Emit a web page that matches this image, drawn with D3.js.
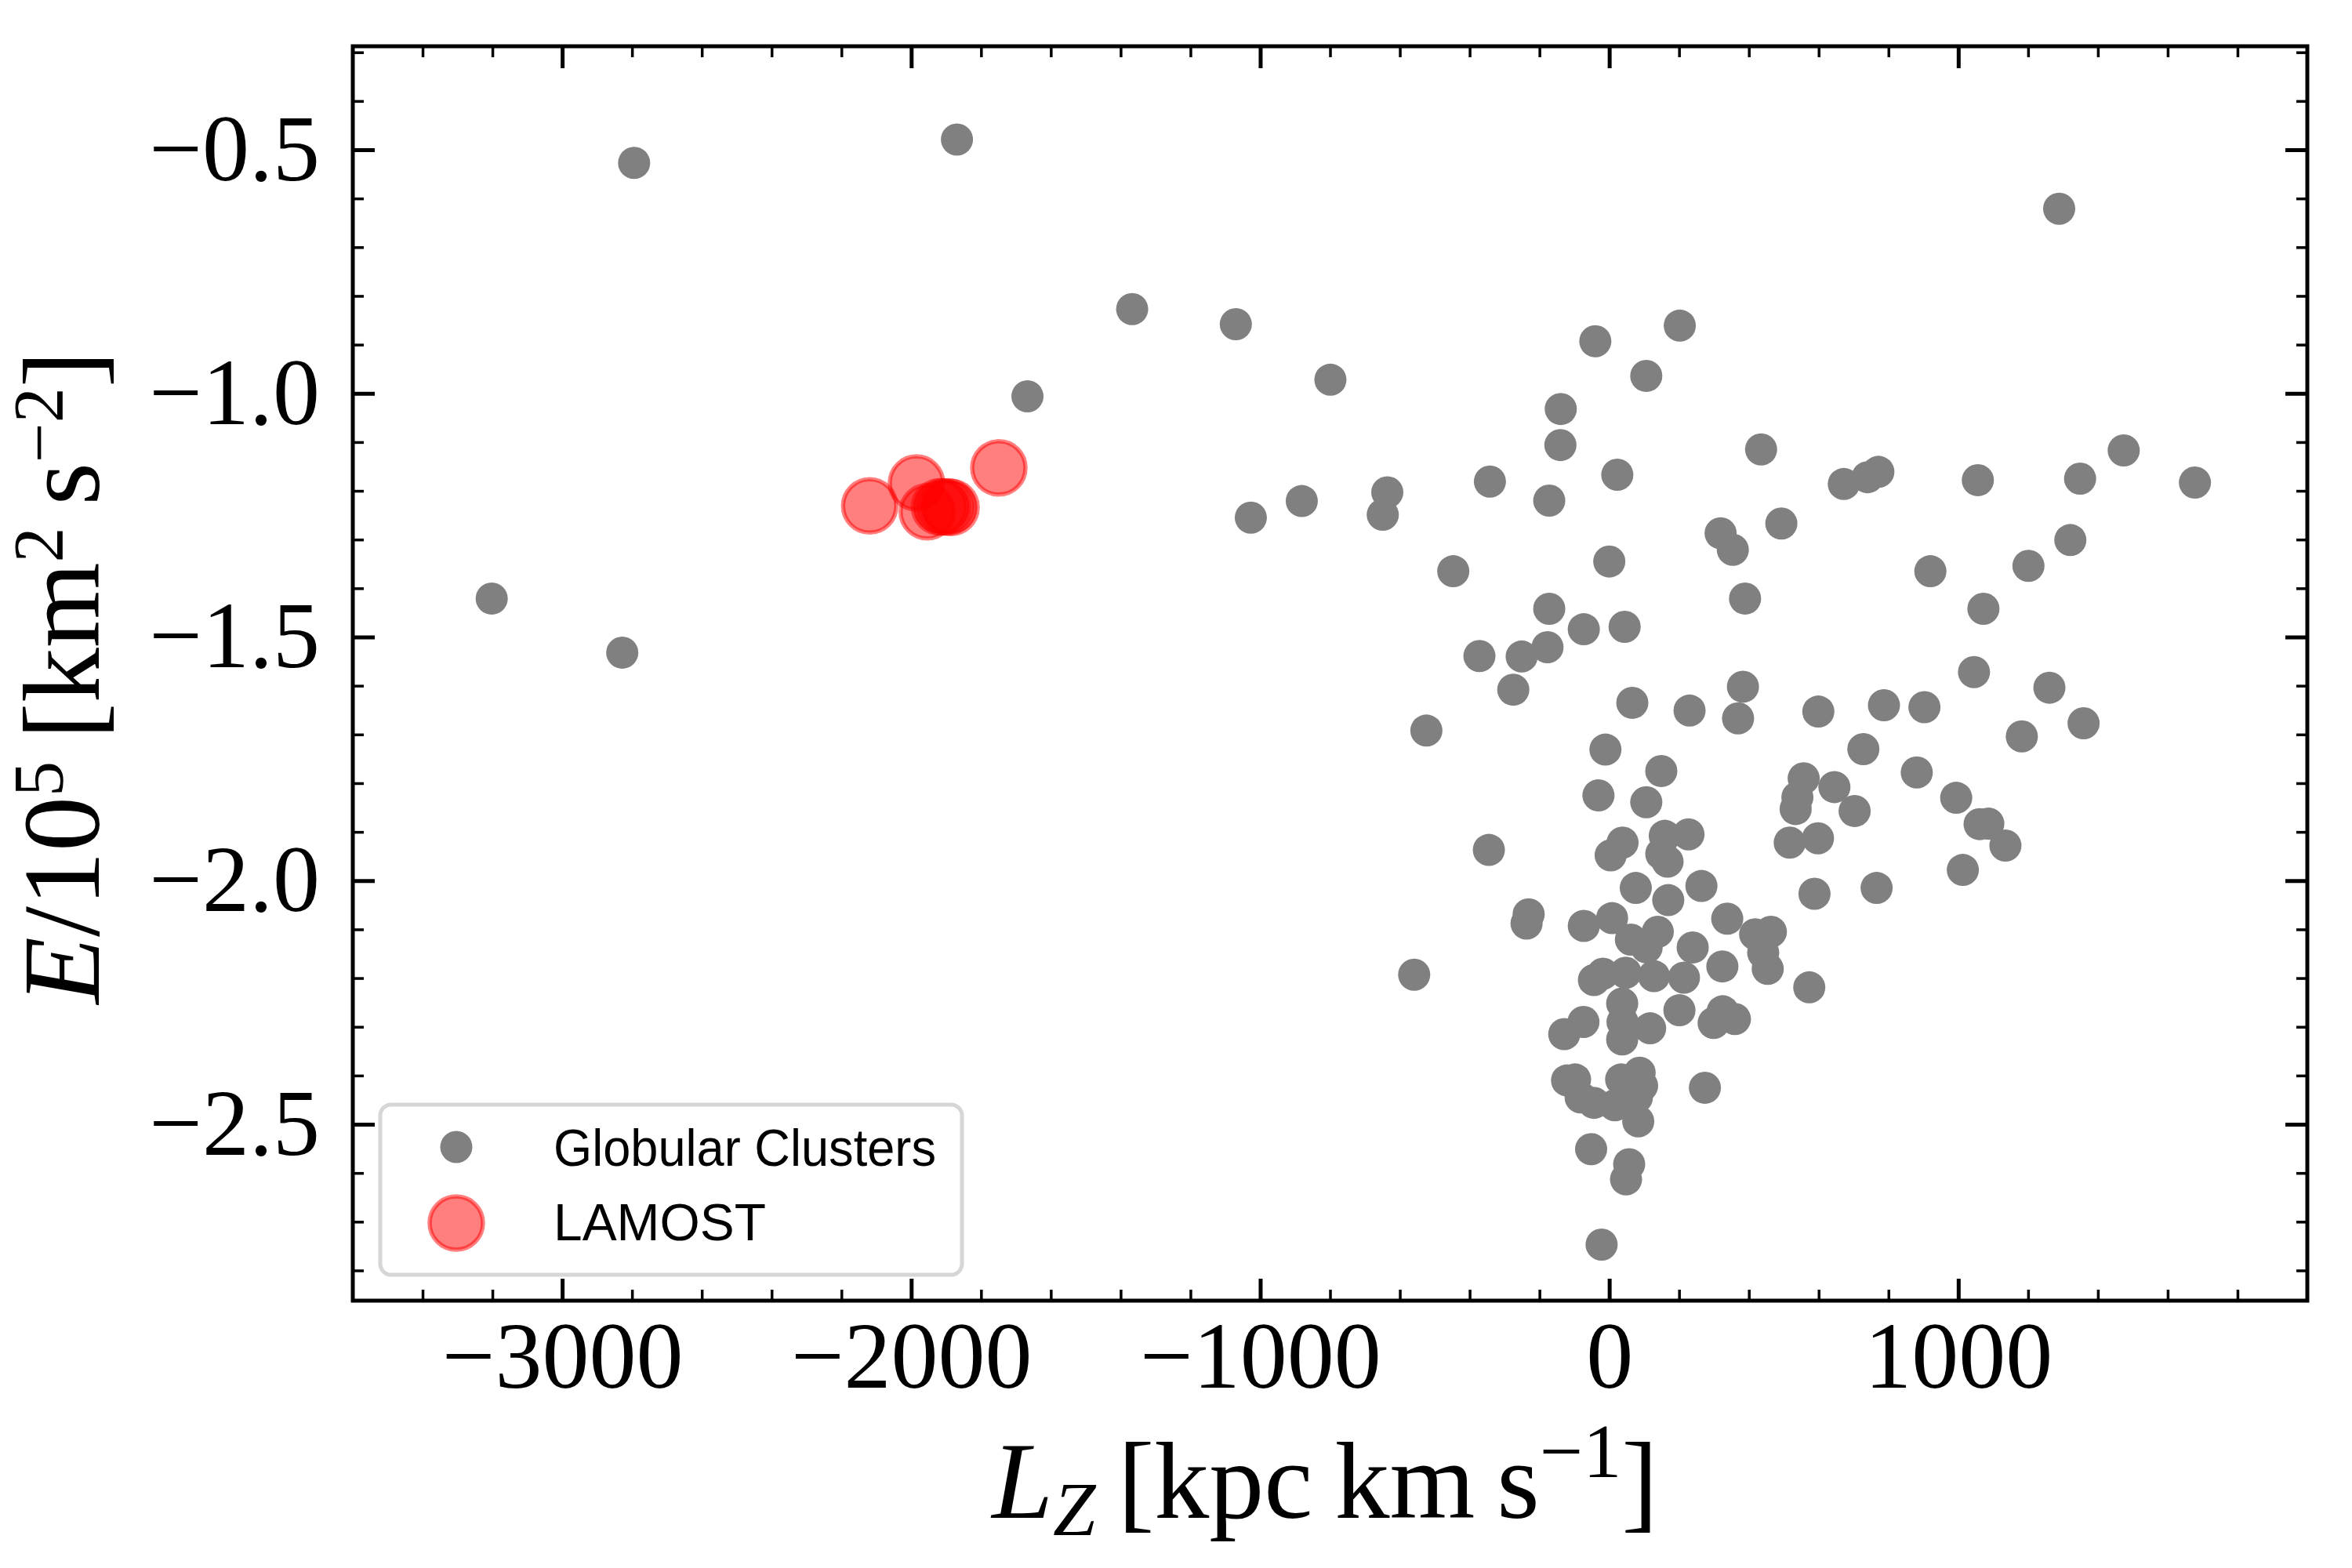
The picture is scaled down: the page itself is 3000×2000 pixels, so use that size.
<!DOCTYPE html>
<html>
<head>
<meta charset="utf-8">
<script src="https://cdn.jsdelivr.net/npm/d3@7"></script>
<style>
  html, body { margin: 0; padding: 0; background: #fff; }
  svg { display: block; }
</style>
</head>
<body>
<svg id="chart" width="3000" height="2000"></svg>
<script>
// ---------------- data ----------------
const gcLz = [
  -2794, -1869, -3202, -2828, -1367, -1070, -799, -1667, -1027, -881, -636, -649, -524, -559, 1289,
  -40, 202, 106, -139, -140, 435, -342, 23, -172, 672, 740, 771, 319, 354, 493, -447, 0, 389, -172, -73, 44,
  -372, -251, -177, -275, 66, 230, 383, 369, 599, 787, -11, 728,
  1056, 1349, 1474, 1678, 1321, 1201, 920, 1072, 1045, 1261, 903, 1359, 1182, 881, 645, 703, 994, 1061, 1086, 1135, 1013,
  149, -31, 106, 557, 539, 534, -345, 38, 4, 159, 227, 149, 167, 76, 169, 264, -231, -237, -73, 8, 62, 139, 107, 239,
  338, 418, 463, 441, 454, 324, 588, 573, -44, -18, 47, 128, 214, 37, 201, 325, 299, 360, -74, -129, 38, 117, 37,
  -121, -98, -82, -44, 16, 34, 87, 94, 79, 83, 274, -52, 57, 48, -22,
  517, 598, 766
];
const gcE = [
  -0.527, -0.479, -1.421, -1.532, -0.827, -0.858, -0.972, -1.006, -1.255, -1.221, -1.203, -1.249, -1.692, -2.193, -0.621,
  -0.893, -0.861, -0.964, -1.032, -1.106, -1.115, -1.181, -1.167, -1.220, -1.186, -1.172, -1.161, -1.287, -1.321, -1.267, -1.365, -1.345, -1.421, -1.442, -1.484, -1.479,
  -1.539, -1.540, -1.521, -1.608, -1.635, -1.651, -1.602, -1.667, -1.653, -1.640, -1.731, -1.730,
  -1.178, -1.175, -1.117, -1.183, -1.301, -1.354, -1.365, -1.442, -1.572, -1.604, -1.644, -1.677, -1.704, -1.778, -1.808, -1.857, -1.830, -1.884, -1.883, -1.928, -1.978,
  -1.775, -1.825, -1.839, -1.790, -1.829, -1.853, -1.937, -1.922, -1.948, -1.908, -1.905, -1.945, -1.961, -2.015, -2.040, -2.011, -2.069, -2.088, -2.093, -2.077, -2.121, -2.105, -2.137, -2.137,
  -2.078, -2.110, -2.105, -2.148, -2.181, -2.176, -2.027, -2.219, -2.204, -2.191, -2.189, -2.196, -2.199, -2.252, -2.266, -2.268, -2.292, -2.284, -2.290, -2.315, -2.290, -2.303, -2.326,
  -2.410, -2.408, -2.445, -2.456, -2.461, -2.408, -2.394, -2.421, -2.445, -2.494, -2.425, -2.551, -2.582, -2.613, -2.747,
  -1.922, -1.913, -2.015
];
const lamostLz = [-2119, -1985, -1954, -1919, -1909, -1895, -1886, -1749];
const lamostE  = [-1.231, -1.184, -1.243, -1.233, -1.233, -1.233, -1.234, -1.153];

const xMajorTicks = [-3000, -2000, -1000, 0, 1000];
const xMinorTicks = [-3400, -3200, -2800, -2600, -2400, -2200, -1800, -1600, -1400, -1200,
                     -800, -600, -400, -200, 200, 400, 600, 800, 1200, 1400, 1600, 1800];
const yMajorTicks = [-2.5, -2.0, -1.5, -1.0, -0.5];
const yMinorTicks = [-2.8, -2.7, -2.6, -2.4, -2.3, -2.2, -2.1, -1.9, -1.8, -1.7, -1.6,
                     -1.4, -1.3, -1.2, -1.1, -0.9, -0.8, -0.7, -0.6, -0.4, -0.3];
const legendLabels = ["Globular Clusters", "LAMOST"];

// ---------------- layout ----------------
const L = 450, R = 2943, T = 59, B = 1659;
const svg = d3.select("#chart");
const x = d3.scaleLinear().domain([-3600, 2000]).range([L, R]);
const y = d3.scaleLinear().domain([-2.862, -0.2876]).range([B, T]);

const serif = "'Liberation Serif', 'DejaVu Serif', serif";
const sans = "'Liberation Sans', 'DejaVu Sans', sans-serif";
const fmtX = v => (v < 0 ? "\u2212" : "") + Math.abs(v).toString();
const fmtY = v => (v < 0 ? "\u2212" : "") + Math.abs(v).toFixed(1);

// ---------------- points ----------------
const gc = gcLz.map((v, i) => ({lz: v, e: gcE[i]}));
const lam = lamostLz.map((v, i) => ({lz: v, e: lamostE[i]}));

svg.append("g").selectAll("circle").data(gc).join("circle")
  .attr("cx", d => x(d.lz)).attr("cy", d => y(d.e)).attr("r", 20.5)
  .attr("fill", "#808080");

svg.append("g").selectAll("circle").data(lam).join("circle")
  .attr("cx", d => x(d.lz)).attr("cy", d => y(d.e)).attr("r", 34)
  .attr("fill", "rgba(255,0,0,0.5)")
  .attr("stroke", "rgba(255,0,0,0.5)").attr("stroke-width", 5.5);

// ---------------- axes ----------------
function styleAxis(g, w) {
  g.select(".domain").remove();
  g.selectAll(".tick line").attr("stroke", "#000").attr("stroke-width", w);
}
const majLen = 28, minLen = 14;

// bottom
svg.append("g").attr("transform", `translate(0,${B})`)
  .call(d3.axisBottom(x).tickValues(xMajorTicks).tickSize(-majLen).tickPadding(26).tickFormat(fmtX))
  .call(g => styleAxis(g, 5))
  .call(g => g.selectAll("text").attr("font-family", serif).attr("font-size", 120).attr("fill", "#000"));
svg.append("g").attr("transform", `translate(0,${B})`)
  .call(d3.axisBottom(x).tickValues(xMinorTicks).tickSize(-minLen).tickFormat(""))
  .call(g => styleAxis(g, 3.5));
// top
svg.append("g").attr("transform", `translate(0,${T})`)
  .call(d3.axisTop(x).tickValues(xMajorTicks).tickSize(-majLen).tickFormat(""))
  .call(g => styleAxis(g, 5));
svg.append("g").attr("transform", `translate(0,${T})`)
  .call(d3.axisTop(x).tickValues(xMinorTicks).tickSize(-minLen).tickFormat(""))
  .call(g => styleAxis(g, 3.5));
// left
svg.append("g").attr("transform", `translate(${L},0)`)
  .call(d3.axisLeft(y).tickValues(yMajorTicks).tickSize(-majLen).tickPadding(42).tickFormat(fmtY))
  .call(g => styleAxis(g, 5))
  .call(g => g.selectAll("text").attr("font-family", serif).attr("font-size", 120).attr("fill", "#000"));
svg.append("g").attr("transform", `translate(${L},0)`)
  .call(d3.axisLeft(y).tickValues(yMinorTicks).tickSize(-minLen).tickFormat(""))
  .call(g => styleAxis(g, 3.5));
// right
svg.append("g").attr("transform", `translate(${R},0)`)
  .call(d3.axisRight(y).tickValues(yMajorTicks).tickSize(-majLen).tickFormat(""))
  .call(g => styleAxis(g, 5));
svg.append("g").attr("transform", `translate(${R},0)`)
  .call(d3.axisRight(y).tickValues(yMinorTicks).tickSize(-minLen).tickFormat(""))
  .call(g => styleAxis(g, 3.5));

// frame
svg.append("rect").attr("x", L).attr("y", T).attr("width", R - L).attr("height", B - T)
  .attr("fill", "none").attr("stroke", "#000").attr("stroke-width", 5);

// ---------------- legend ----------------
const leg = svg.append("g");
leg.append("rect").attr("x", 485).attr("y", 1409).attr("width", 742).attr("height", 217)
  .attr("rx", 14).attr("ry", 14)
  .attr("fill", "rgba(255,255,255,0.8)").attr("stroke", "#d6d6d6").attr("stroke-width", 5);
leg.append("circle").attr("cx", 582).attr("cy", 1463).attr("r", 20.5).attr("fill", "#808080");
leg.append("circle").attr("cx", 582).attr("cy", 1560).attr("r", 34)
  .attr("fill", "rgba(255,0,0,0.5)").attr("stroke", "rgba(255,0,0,0.5)").attr("stroke-width", 5.5);
leg.append("text").attr("x", 706).attr("y", 1487).text(legendLabels[0])
  .attr("font-family", sans).attr("font-size", 67).attr("fill", "#000")
  .attr("textLength", 488).attr("lengthAdjust", "spacingAndGlyphs");
leg.append("text").attr("x", 706).attr("y", 1582).text(legendLabels[1])
  .attr("font-family", sans).attr("font-size", 67).attr("fill", "#000")
  .attr("textLength", 271).attr("lengthAdjust", "spacingAndGlyphs");

// ---------------- axis labels ----------------
const xl = svg.append("text").attr("x", 1690).attr("y", 1936)
  .attr("text-anchor", "middle").attr("font-family", serif).attr("font-size", 140).attr("fill", "#000");
xl.append("tspan").attr("font-style", "italic").text("L");
xl.append("tspan").attr("font-style", "italic").attr("font-size", 98).attr("dy", 22).text("Z");
xl.append("tspan").attr("dy", -22).text("\u2009[kpc\u2009km\u2009s");
xl.append("tspan").attr("font-size", 98).attr("dy", -52).text("\u22121");
xl.append("tspan").attr("dy", 52).text("]");

const supRaise = 46, supSize = 90;
const yl = svg.append("text").attr("transform", "translate(126,864) rotate(-90)")
  .attr("text-anchor", "middle").attr("font-family", serif).attr("font-size", 140).attr("fill", "#000");
yl.append("tspan").attr("font-style", "italic").text("E");
yl.append("tspan").text("/10");
yl.append("tspan").attr("font-size", supSize).attr("dy", -supRaise).text("5");
yl.append("tspan").attr("dy", supRaise).text("\u2009[km");
yl.append("tspan").attr("font-size", supSize).attr("dy", -supRaise).text("2");
yl.append("tspan").attr("dy", supRaise).text("\u2009s");
yl.append("tspan").attr("font-size", supSize).attr("dy", -supRaise).text("\u22122");
yl.append("tspan").attr("dy", supRaise).text("]");
</script>
</body>
</html>
